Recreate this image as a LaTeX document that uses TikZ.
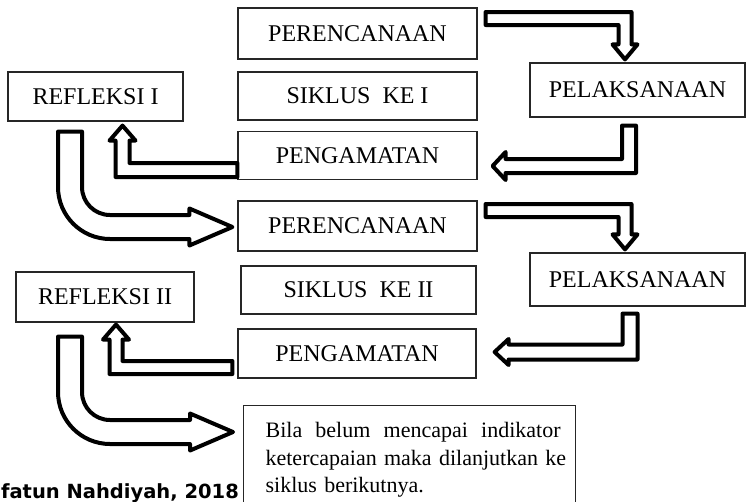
\documentclass[tikz,border=0pt]{standalone}
\usepackage{fontspec}
\setmainfont{Liberation Serif}
\newfontfamily\captionfont{DejaVu Sans}
\usetikzlibrary{calc}

\tikzset{
  box/.style={draw=black!85, line width=1.2pt, fill=white, inner sep=0pt,
    font=\fontsize{24}{28}\selectfont},
  hollow/.style={draw=black, line width=4pt, fill=white, line join=round},
}

% hollow block arrows: #1 tail, #2 tip, #3 half width, #4 head half width, #5 head length
\newcommand{\arrowRD}[5]{%
  \draw[hollow] ($(#1)+(0,-#3)$) -- ($(#1 -| #2)+(#3,-#3)$) -- ($(#2)+(#3,-#5)$)
    -- ($(#2)+(#4,-#5)$) -- (#2) -- ($(#2)+(-#4,-#5)$) -- ($(#2)+(-#3,-#5)$)
    -- ($(#1 -| #2)+(-#3,#3)$) -- ($(#1)+(0,#3)$) -- cycle;}
\newcommand{\arrowDL}[5]{%
  \draw[hollow] ($(#1)+(-#3,0)$) -- ($(#1)+(#3,0)$) -- ($(#1 |- #2)+(#3,#3)$)
    -- ($(#2)+(#5,#3)$) -- ($(#2)+(#5,#4)$) -- (#2) -- ($(#2)+(#5,-#4)$)
    -- ($(#2)+(#5,-#3)$) -- ($(#1 |- #2)+(-#3,-#3)$) -- cycle;}
\newcommand{\arrowLU}[5]{%
  \draw[hollow] ($(#1)+(0,-#3)$) -- ($(#1)+(0,#3)$) -- ($(#1 -| #2)+(-#3,#3)$)
    -- ($(#2)+(-#3,#5)$) -- ($(#2)+(-#4,#5)$) -- (#2) -- ($(#2)+(#4,#5)$)
    -- ($(#2)+(#3,#5)$) -- ($(#1 -| #2)+(#3,-#3)$) -- cycle;}
% wide bent arrow, down then right
\newcommand{\arrowDR}[2]{%
  \draw[hollow] ($(#1)+(-12,0)$) -- ($(#1)+(12,0)$) -- ($(#1 |- #2)+(12,-40)$)
    .. controls ($(#1 |- #2)+(12,-24.5)$) and ($(#1 |- #2)+(24.5,-12)$) .. ($(#1 |- #2)+(40,-12)$)
    -- ($(#2)+(-43,-12)$) -- ($(#2)+(-43,-18.5)$) -- (#2) -- ($(#2)+(-43,18.5)$)
    -- ($(#2)+(-43,12)$) -- ($(#1 |- #2)+(40,12)$)
    .. controls ($(#1 |- #2)+(11.3,12)$) and ($(#1 |- #2)+(-12,-11.3)$) .. ($(#1 |- #2)+(-12,-40)$)
    -- cycle;}

\begin{document}
\begin{tikzpicture}[x=1pt,y=-1pt]
  \useasboundingbox (0,0) rectangle (751,501);
  % cycle one
  \node[box, minimum width=239, minimum height=51] (per1) at (357.5,33.5) {PERENCANAAN};
  \node[box, minimum width=239, minimum height=48] (sik1) at (357.5,96) {SIKLUS\ \ KE I};
  \node[box, minimum width=175, minimum height=49] (ref1) at (95.5,96.5) {REFLEKSI I};
  \node[box, minimum width=215, minimum height=54] (pel1) at (637.5,90) {PELAKSANAAN};
  \node[box, minimum width=239, minimum height=48] (pen1) at (357.5,155.5) {PENGAMATAN};
  % cycle two
  \node[box, minimum width=239, minimum height=50] (per2) at (357.5,226) {PERENCANAAN};
  \node[box, minimum width=235, minimum height=48] (sik2) at (358.5,290) {SIKLUS\ \ KE II};
  \node[box, minimum width=178, minimum height=50] (ref2) at (105,297) {REFLEKSI II};
  \node[box, minimum width=215, minimum height=53] (pel2) at (637.5,279.5) {PELAKSANAAN};
  \node[box, minimum width=238, minimum height=49] (pen2) at (357,353.5) {PENGAMATAN};
  \node[box, anchor=north west, inner xsep=22, inner ysep=17, text width=288, align=left,
    font=\fontsize{22}{27.5}\selectfont] (bila) at (243,405)
    {\hbox to 295pt{Bila\hfill belum\hfill mencapai\hfill indikator}\\
     \mbox{ketercapaian maka dilanjutkan ke}\\
     siklus berikutnya.};
  \node[anchor=base east, inner sep=0, font=\captionfont\bfseries\fontsize{19.5}{20}\selectfont]
    (src) at (239,498) {fatun Nahdiyah, 2018};

  % arrow ends
  \coordinate (a1s) at ($(per1.east)+(8,-15)$);
  \coordinate (a1t) at ($(pel1.north)+(-12.5,-3)$);
  \coordinate (a2s) at ($(pel1.south)+(-8.5,8)$);
  \coordinate (a2t) at ($(pen1.east)+(15,10.5)$);
  \coordinate (a3s) at ($(pen1.west)+(0,14.5)$);
  \coordinate (a3t) at ($(ref1.south)+(27,4)$);
  \coordinate (a4s) at ($(ref1.south)+(-25.5,10)$);
  \coordinate (a4t) at ($(per2.west)+(-5,1)$);
  \coordinate (b1s) at ($(per2.east)+(8,-15.5)$);
  \coordinate (b1t) at ($(pel2.north)+(-12.5,-3)$);
  \coordinate (b2s) at ($(pel2.south)+(-7.5,7)$);
  \coordinate (b2t) at ($(pen2.east)+(18,-1.5)$);
  \coordinate (b3s) at ($(pen2.west)+(-5,14)$);
  \coordinate (b3t) at ($(ref2.south)+(11,2)$);
  \coordinate (b4s) at ($(ref2.south)+(-35,14)$);
  \coordinate (b4t) at ($(bila.north west)+(-10,27)$);

  \arrowRD{a1s}{a1t}{6.5}{12.5}{15}
  \arrowDL{a2s}{a2t}{7}{14}{13}
  \arrowLU{a3s}{a3t}{7}{13}{15}
  \arrowDR{a4s}{a4t}
  \arrowRD{b1s}{b1t}{6.5}{12.5}{15}
  \arrowDL{b2s}{b2t}{7.5}{13}{14}
  \arrowLU{b3s}{b3t}{6.5}{13}{15}
  \arrowDR{b4s}{b4t}
\end{tikzpicture}
\end{document}
